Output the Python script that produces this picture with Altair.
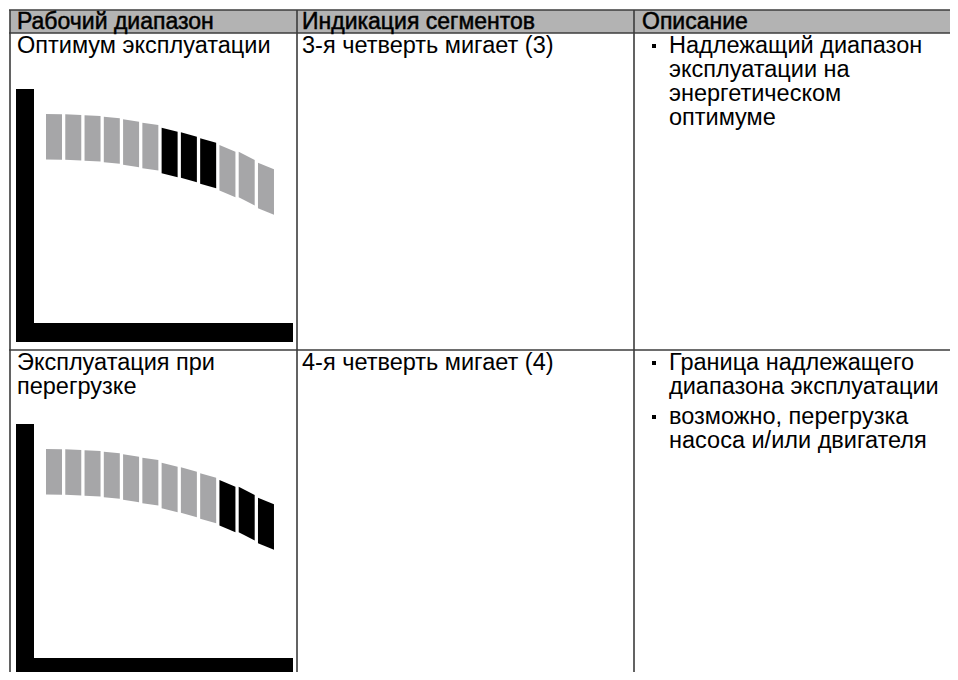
import altair as alt
import pandas as pd

# ---------------- data ----------------
header_labels = ["Рабочий диапазон", "Индикация сегментов", "Описание"]
range_lines = [["Оптимум эксплуатации"], ["Эксплуатация при", "перегрузке"]]
indication_labels = ["3-я четверть мигает (3)", "4-я четверть мигает (4)"]
description_items = [
    [["Надлежащий диапазон", "эксплуатации на", "энергетическом", "оптимуме"]],
    [["Граница надлежащего", "диапазона эксплуатации"],
     ["возможно, перегрузка", "насоса и/или двигателя"]],
]
segment_count = 12
blinking_segments = [[7, 8, 9], [10, 11, 12]]
# top edge of each bar-graph segment, below the icon's top (left and right corner)
segment_top_left = [25, 25.3, 26.3, 27.7, 30.3, 33.7, 38.7, 43.3, 49.3, 56, 62.7, 73.7]
segment_top_right = [25.3, 26, 27, 29.3, 32.7, 36, 42.7, 47.7, 53.7, 62.7, 71, 80.3]

# ---------------- layout ----------------
W, H = 942, 664
M = 8
col_x = [10, 297, 634, 1000]
text_pad = [7, 5, 8]
header_top, header_bottom = 10, 33
row_top = [33, 350]
line_h = 24
font = "Liberation Sans"
fsize = 23.5
icon_top = [89, 424]
icon_h = 253
seg_x0, seg_pitch, seg_w, seg_h = 46, 19.27, 16, 45.5
bar_w = 18

xs = alt.Scale(domain=[M, M + W], nice=False, zero=False)
ys = alt.Scale(domain=[M, M + H], nice=False, zero=False, reverse=True)

def X(f="x"):
    return alt.X(f"{f}:Q", scale=xs, axis=None)

def Y(f="y"):
    return alt.Y(f"{f}:Q", scale=ys, axis=None)

# header background
hdr = pd.DataFrame([{"x": col_x[0], "x2": 1000, "y": header_top, "y2": header_bottom}])
header_bg = alt.Chart(hdr).mark_rect(color="#b3b3b3", clip=True).encode(
    x=X(), x2="x2:Q", y=Y(), y2="y2:Q")

# grid lines
lines = pd.DataFrame([
    {"x": 9, "x2": 1000, "y": header_top, "y2": header_top},
    {"x": 9, "x2": 1000, "y": header_bottom, "y2": header_bottom},
    {"x": 9, "x2": 1000, "y": row_top[1], "y2": row_top[1]},
    {"x": col_x[0], "x2": col_x[0], "y": header_top, "y2": 700},
    {"x": col_x[1], "x2": col_x[1], "y": header_top, "y2": 700},
    {"x": col_x[2], "x2": col_x[2], "y": header_top, "y2": 700},
])
grid = alt.Chart(lines).mark_rule(color="#3c3c3c", strokeWidth=1.6, clip=True).encode(
    x=X(), x2="x2:Q", y=Y(), y2="y2:Q")

# header text
htxt = pd.DataFrame([
    {"x": col_x[i] + text_pad[i], "y": 29, "t": header_labels[i]}
    for i in range(3)
])
header_text = alt.Chart(htxt).mark_text(
    align="left", baseline="alphabetic", font=font, fontSize=23,
    color="#000000", stroke="#000000", strokeWidth=0.5, clip=True).encode(
    x=X(), y=Y(), text="t:N")

# body text
body = []
bullets = []
for r in range(2):
    y0 = row_top[r] + 20
    for k, ln in enumerate(range_lines[r]):
        body.append({"x": col_x[0] + text_pad[0], "y": y0 + k * line_h, "t": ln})
    body.append({"x": col_x[1] + text_pad[1], "y": y0, "t": indication_labels[r]})
    yy = y0
    for item in description_items[r]:
        bullets.append({"x": col_x[2] + 20, "y": yy - 7})
        for ln in item:
            body.append({"x": col_x[2] + 35, "y": yy, "t": ln})
            yy += line_h
        yy += 6
body_text = alt.Chart(pd.DataFrame(body)).mark_text(
    align="left", baseline="alphabetic", font=font, fontSize=fsize, color="#000000",
    clip=True).encode(x=X(), y=Y(), text="t:N")
bullet_marks = alt.Chart(pd.DataFrame(bullets)).mark_square(
    size=16, color="#000000", opacity=1).encode(x=X(), y=Y())

# L-shaped frame of the icon
frames = []
for r in range(2):
    top, bot = icon_top[r], icon_top[r] + icon_h
    frames.append({"x": 16, "x2": 16 + bar_w, "y": top, "y2": bot})
    frames.append({"x": 16, "x2": 293, "y": bot - 19, "y2": bot})
frame = alt.Chart(pd.DataFrame(frames)).mark_rect(color="#000000", clip=True).encode(
    x=X(), x2="x2:Q", y=Y(), y2="y2:Q")

# bar-graph segments
segs = []
for r in range(2):
    for i in range(segment_count):
        state = "мигает" if (i + 1) in blinking_segments[r] else "выкл"
        xl = seg_x0 + i * seg_pitch
        for xx, tt in ((xl, segment_top_left[i]), (xl + seg_w, segment_top_right[i])):
            segs.append({"x": xx, "y": icon_top[r] + tt, "y2": icon_top[r] + tt + seg_h,
                         "seg": f"{r}-{i}", "state": state})
segments = alt.Chart(pd.DataFrame(segs)).mark_area(interpolate="linear", clip=True).encode(
    x=X(), y=Y(), y2="y2:Q", detail="seg:N",
    color=alt.Color("state:N", scale=alt.Scale(domain=["мигает", "выкл"],
                                               range=["#000000", "#a6a6a8"]), legend=None))

chart = alt.layer(header_bg, grid, header_text, body_text, bullet_marks, frame, segments).properties(
    width=W, height=H, padding=0, autosize=alt.AutoSizeParams(type="none")
).configure_view(stroke=None)

chart.save("out.html", embed_options={"renderer": "svg", "actions": False})
